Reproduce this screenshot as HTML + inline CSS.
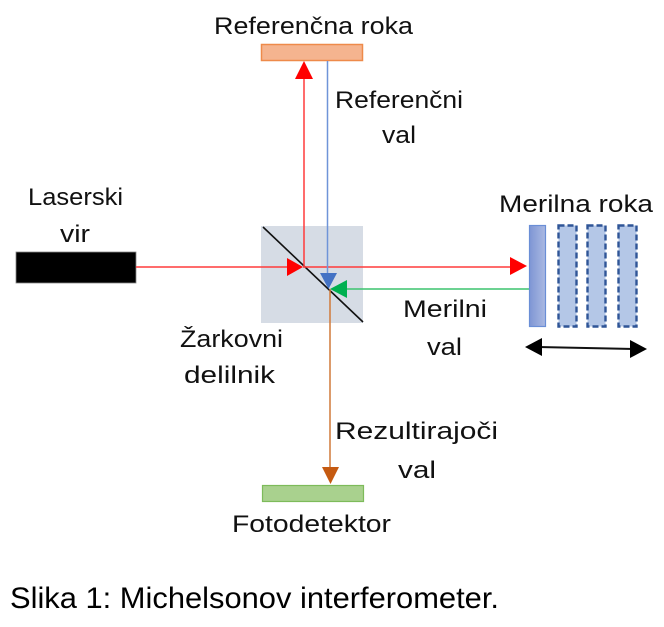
<!DOCTYPE html>
<html><head><meta charset="utf-8"><style>
html,body{margin:0;padding:0;background:#fff;}
svg{display:block;}
text{font-family:"Liberation Sans",sans-serif;fill:#111;}
</style></head><body>
<svg width="664" height="627" viewBox="0 0 664 627" xmlns="http://www.w3.org/2000/svg">
<defs>
<linearGradient id="mg" x1="0" y1="0" x2="1" y2="0">
<stop offset="0" stop-color="#7f96d4"/><stop offset="1" stop-color="#aab9e2"/>
</linearGradient>
</defs>
<!-- Reference mirror -->
<rect x="261.5" y="44.5" width="101" height="16" fill="#f5b48f" stroke="#ee8a4a" stroke-width="1.5"/>
<!-- Beam splitter -->
<rect x="261" y="226" width="102" height="97" fill="#d6dce5"/>
<line x1="263" y1="227" x2="363" y2="322" stroke="#111" stroke-width="1.6"/>
<!-- Laser -->
<rect x="16" y="252" width="120" height="31" fill="#000" stroke="#888" stroke-width="0.8"/>
<!-- Red beams -->
<line x1="136" y1="267" x2="290" y2="267" stroke="#ff3b3b" stroke-width="1.5"/>
<polygon points="287,258 303,267 287,276" fill="#ff0000"/>
<line x1="303" y1="267" x2="512" y2="267" stroke="#ff3b3b" stroke-width="1.5"/>
<polygon points="510,257 527,266 510,275" fill="#ff0000"/>
<line x1="304" y1="267" x2="304" y2="75" stroke="#ff3b3b" stroke-width="1.5"/>
<polygon points="295,79 304,61 313,79" fill="#ff0000"/>
<!-- Blue -->
<line x1="327.5" y1="61" x2="327.5" y2="275" stroke="#6f94d8" stroke-width="1.5"/>
<polygon points="320,273 337,273 328.5,289" fill="#4472c4"/>
<!-- Green -->
<line x1="345" y1="289" x2="529" y2="289" stroke="#3cc46e" stroke-width="1.5"/>
<polygon points="347,280 330,289 347,298" fill="#00b050"/>
<!-- Orange -->
<line x1="330" y1="289" x2="330" y2="470" stroke="#d07a3a" stroke-width="1.5"/>
<polygon points="322,467 339,467 330.5,484" fill="#c55a11"/>
<!-- Photodetector -->
<rect x="262.5" y="485.5" width="101" height="16" fill="#a9d18e" stroke="#7dbb5a" stroke-width="1.2"/>
<!-- Measuring mirror -->
<rect x="529.5" y="225.5" width="16" height="101" fill="url(#mg)" stroke="#6a8ed6" stroke-width="1.2"/>
<rect x="558.5" y="225.5" width="18" height="101" fill="#b4c7e7" stroke="#2f5597" stroke-width="2.4" stroke-dasharray="6,3"/>
<rect x="587.5" y="225.5" width="18" height="101" fill="#b4c7e7" stroke="#2f5597" stroke-width="2.4" stroke-dasharray="6,3"/>
<rect x="618.5" y="225.5" width="18" height="101" fill="#b4c7e7" stroke="#2f5597" stroke-width="2.4" stroke-dasharray="6,3"/>
<!-- Double arrow -->
<line x1="538" y1="347" x2="634" y2="349" stroke="#111" stroke-width="2"/>
<polygon points="525,347 542,338 542,356" fill="#000"/>
<polygon points="647,349 630,340 630,358" fill="#000"/>
<!-- Labels -->
<text x="214" y="34" font-size="24" textLength="199" lengthAdjust="spacingAndGlyphs">Referenčna roka</text>
<text x="335" y="108" font-size="24" textLength="128" lengthAdjust="spacingAndGlyphs">Referenčni</text>
<text x="382" y="143" font-size="24" textLength="34" lengthAdjust="spacingAndGlyphs">val</text>
<text x="28" y="205" font-size="24" textLength="95" lengthAdjust="spacingAndGlyphs">Laserski</text>
<text x="60" y="242" font-size="24" textLength="30" lengthAdjust="spacingAndGlyphs">vir</text>
<text x="180" y="347" font-size="24" textLength="103" lengthAdjust="spacingAndGlyphs">Žarkovni</text>
<text x="184" y="383" font-size="24" textLength="91" lengthAdjust="spacingAndGlyphs">delilnik</text>
<text x="499" y="212" font-size="24" textLength="154" lengthAdjust="spacingAndGlyphs">Merilna roka</text>
<text x="403" y="317" font-size="24" textLength="84" lengthAdjust="spacingAndGlyphs">Merilni</text>
<text x="427" y="355" font-size="24" textLength="35" lengthAdjust="spacingAndGlyphs">val</text>
<text x="335" y="439" font-size="24" textLength="163" lengthAdjust="spacingAndGlyphs">Rezultirajoči</text>
<text x="398" y="478" font-size="24" textLength="38" lengthAdjust="spacingAndGlyphs">val</text>
<text x="232" y="532" font-size="24" textLength="159" lengthAdjust="spacingAndGlyphs">Fotodetektor</text>
<text x="10" y="608" font-size="30" textLength="489" lengthAdjust="spacingAndGlyphs" style="fill:#000">Slika 1: Michelsonov interferometer.</text>
</svg>
</body></html>
